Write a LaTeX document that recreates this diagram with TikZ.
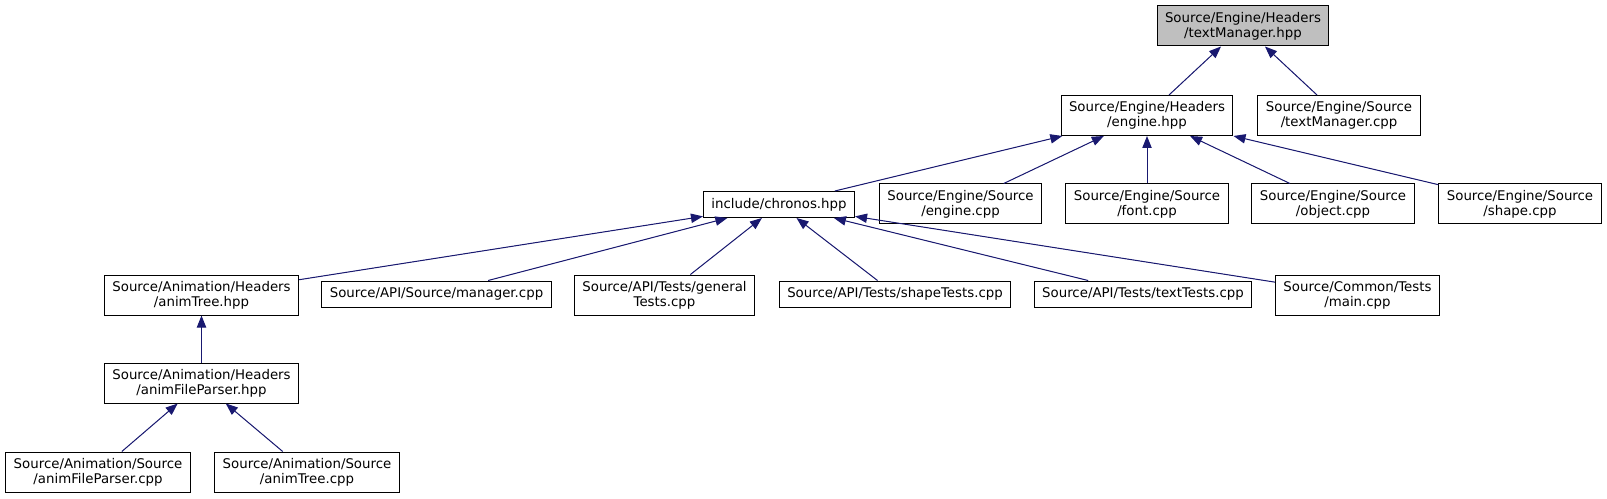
\documentclass[tikz,border=0pt]{standalone}
\usepackage{fontspec}
\setmainfont{DejaVu Sans}
\usepackage{tikz}
\usetikzlibrary{arrows.meta}
\usepackage{xcolor}
\definecolor{inclblue} {RGB}{ 25, 25,112}
\definecolor{rootgray} {RGB}{191,191,191}

\begin{document}
\begin{tikzpicture}[
    x=0.75pt, y=-0.75pt,
    filebox/.style={draw, rectangle, fill=white, line width=0.75pt, inner xsep=6pt, inner ysep=0pt, minimum height=30pt, align=center, font=\fontsize{10}{11.25}\selectfont},
    onebox/.style={filebox, minimum height=19.5pt},
    rootbox/.style={filebox, fill=rootgray},
    incl/.style={-{Triangle[length=9pt, width=7pt]}, draw=inclblue, fill=inclblue, line width=0.75pt}
]
    \useasboundingbox (0,0) rectangle (1607,499);

    \node[rootbox] (tmh) at (1243,26) {Source/Engine/Headers\\/textManager.hpp};
    \node[filebox] (engh) at (1147,115.5) {Source/Engine/Headers\\/engine.hpp};
    \node[filebox] (tmc) at (1339,115.5) {Source/Engine/Source\\/textManager.cpp};

    \node[onebox] (chronos) at (779,204.5) {include/chronos.hpp};
    \node[filebox] (engc) at (960.5,204) {Source/Engine/Source\\/engine.cpp};
    \node[filebox] (fontc) at (1147,204) {Source/Engine/Source\\/font.cpp};
    \node[filebox] (objc) at (1333,204) {Source/Engine/Source\\/object.cpp};
    \node[filebox] (shapec) at (1520,204) {Source/Engine/Source\\/shape.cpp};

    \node[filebox] (animh) at (201.5,295) {Source/Animation/Headers\\/animTree.hpp};
    \node[onebox] (manc) at (436.5,294) {Source/API/Source/manager.cpp};
    \node[filebox] (gentc) at (664.5,295) {Source/API/Tests/general\\Tests.cpp};
    \node[onebox] (shapetc) at (895,294) {Source/API/Tests/shapeTests.cpp};
    \node[onebox] (texttc) at (1143,294) {Source/API/Tests/textTests.cpp};
    \node[filebox] (mainc) at (1357.5,295) {Source/Common/Tests\\/main.cpp};

    \node[filebox] (afph) at (201.5,383) {Source/Animation/Headers\\/animFileParser.hpp};
    \node[filebox] (afpc) at (98,472) {Source/Animation/Source\\/animFileParser.cpp};
    \node[filebox] (atc) at (307,472) {Source/Animation/Source\\/animTree.cpp};

    \draw[incl] (engh) -- (tmh);
    \draw[incl] (tmc) -- (tmh);

    \draw[incl] (chronos) -- (engh);
    \draw[incl] (engc) -- (engh);
    \draw[incl] (fontc) -- (engh);
    \draw[incl] (objc) -- (engh);
    \draw[incl] (shapec) -- (engh);

    \draw[incl] (animh) -- (chronos);
    \draw[incl] (manc) -- (chronos);
    \draw[incl] (gentc) -- (chronos);
    \draw[incl] (shapetc) -- (chronos);
    \draw[incl] (texttc) -- (chronos);
    \draw[incl] (mainc) -- (chronos);

    \draw[incl] (afph) -- (animh);
    \draw[incl] (afpc) -- (afph);
    \draw[incl] (atc) -- (afph);
\end{tikzpicture}
\end{document}
